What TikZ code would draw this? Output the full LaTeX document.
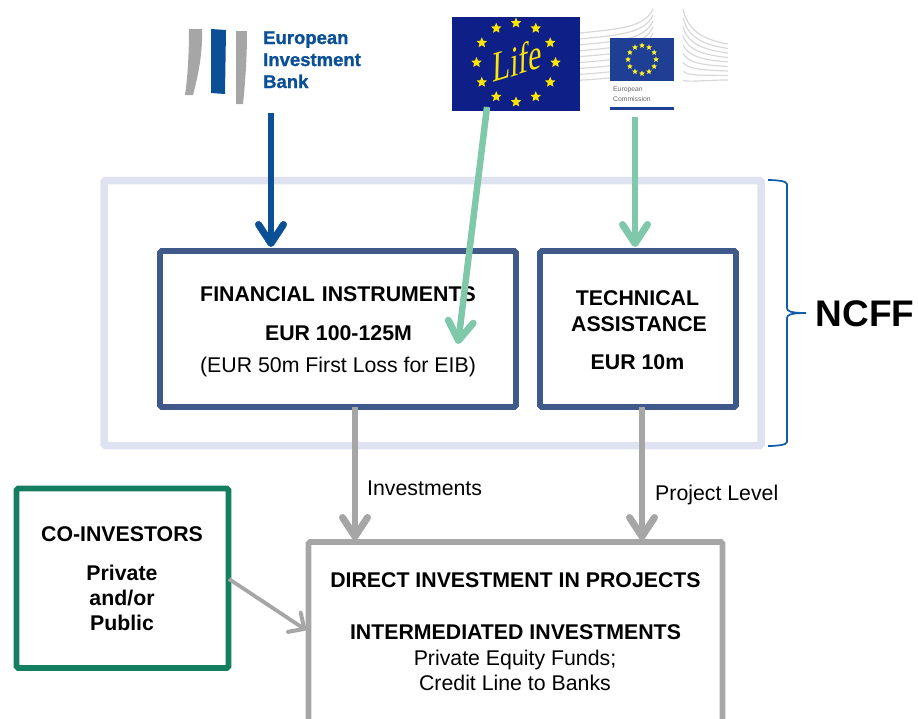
\documentclass[tikz,border=0pt]{standalone}
\usepackage{fontspec}
\setmainfont{Liberation Sans}
\newfontfamily\lifefont[FakeSlant=0.25]{Liberation Serif}
\newfontfamily\eibfont[BoldFeatures={FakeBold=1.2}]{Liberation Sans}
\usetikzlibrary{arrows.meta,shapes.geometric,calc}
\definecolor{eibblue}{HTML}{0B4F96}
\definecolor{mint}{HTML}{7FC8A9}
\definecolor{pale}{HTML}{DFE3F1}
\definecolor{steel}{HTML}{3F5A8A}
\definecolor{coin}{HTML}{147F60}
\definecolor{midgrey}{HTML}{A6A6A6}
\definecolor{lifeblue}{HTML}{0E1F87}
\definecolor{ecblue}{HTML}{1F3F94}
\definecolor{wing}{HTML}{D8D8D8}
\definecolor{bracecol}{HTML}{0B5CAB}
\tikzset{
  x=1pt,y=-1pt,
  panel/.style={draw,rounded corners=1.5pt,inner sep=0pt,outer sep=0pt,fill=none},
  lab/.style={anchor=base,inner sep=0pt,font=\fontsize{21.3}{25}\selectfont},
  blab/.style={lab,font=\fontsize{21.3}{25}\selectfont\bfseries},
  eibtxt/.style={anchor=base west,inner sep=0pt,text=eibblue,font=\eibfont\fontsize{18.5}{22}\selectfont\bfseries},
  flow/.style={line width=6.5pt,-{Straight Barb[length=19pt,width=25pt,line width=7pt,round]}},
  thinflow/.style={line width=3.8pt,midgrey,-{Straight Barb[length=12pt,width=23pt,line width=4pt,round]}},
  lstar/.style={star,star points=5,star point ratio=2.2,fill=#1,inner sep=0pt},
}
\begin{document}
\begin{tikzpicture}
\useasboundingbox (0,0) rectangle (918,718);
\clip (0,0) rectangle (918,718);
% EIB logo
\fill[midgrey] (189,29) -- (202,29) .. controls (203,55) and (197,80) .. (193,95) -- (185,95) .. controls (188,75) and (189,50) .. cycle;
\fill[eibblue] (211,29) -- (226,30) -- (225,94) -- (211,93) -- cycle;
\fill[midgrey] (236,31) -- (247,31) .. controls (247,60) and (245,85) .. (243,104) -- (236,104) -- cycle;
\node[eibtxt] (eib1) at (263,44) {European};
\node[eibtxt] (eib2) at (263,66) {Investment};
\node[eibtxt] (eib3) at (263,88) {Bank};
\coordinate (eibout) at (271,113);
% EC wings
\foreach \i in {0,1,...,8}{
  \draw[wing,line width=1.2pt] (580,{33+\i*5.9}) .. controls (620,{29+\i*6.1}) and (645,{27+\i*6}) .. (653,{9+\i*6});
  \draw[wing,line width=1.2pt] (683,{9+\i*8.9}) .. controls (688,{32+\i*6.3}) and (705,{40+\i*5}) .. (728,{44+\i*4.5});
}
% EC logo
\node[fill=ecblue,minimum width=64pt,minimum height=43pt,inner sep=0pt,outer sep=0pt] (ecflag) at (642,59.5) {};
\foreach \i in {1,...,12}{
  \node[lstar=yellow!85!white,minimum size=6pt] (ecs\i) at ($(ecflag.center)+({\i*30}:14)$) {};
}
\node[anchor=base west,inner sep=0pt,text=black!60,font=\fontsize{6.8}{8}\selectfont] (ect1) at (613,91) {European};
\node[anchor=base west,inner sep=0pt,text=black!60,font=\fontsize{6.8}{8}\selectfont] (ect2) at (613,101) {Commission};
\node[fill=ecblue,minimum width=64pt,minimum height=3pt,inner sep=0pt,outer sep=0pt] (ecbar) at (642,108.5) {};
\coordinate (ecout) at (635,117);
% LIFE logo
\node[fill=lifeblue,minimum width=128pt,minimum height=94pt,inner sep=0pt,outer sep=0pt] (life) at (516,64) {};
\foreach \i in {1,...,12}{
  \node[lstar=yellow!90!orange,minimum size=11pt] (ls\i) at ($(516,62.5)+({\i*30}:39.5)$) {};
}
\node[inner sep=0pt,text=yellow!90!orange,xscale=0.72,rotate=12,transform shape,font=\lifefont\fontsize{42}{46}\selectfont] (lifetxt) at (515,61) {Life};
\coordinate (lifeout) at (487,107);
% NCFF panel
\node[panel,draw=pale,line width=7.5pt,minimum width=657pt,minimum height=265pt,anchor=north west] (ncff) at (104,180.5) {};
% brace
\draw[bracecol,line width=1.7pt] (768,180) .. controls (776,180) and (787,181) .. (787,184) -- (787,308) .. controls (787,311) and (790,313) .. (806,313) .. controls (790,313) and (787,315) .. (787,318) -- (787,442) .. controls (787,445) and (776,446) .. (768,446);
\node[inner sep=0pt,anchor=base,font=\fontsize{37}{42}\selectfont\bfseries] (ncfflab) at (865,326) {NCFF};
% boxes
\node[panel,draw=steel,line width=5.6pt,minimum width=356pt,minimum height=156pt,anchor=north west] (fin) at (160,251) {};
\node[panel,draw=steel,line width=5.6pt,minimum width=196pt,minimum height=156pt,anchor=north west] (ta) at (540,251) {};
\node[panel,draw=coin,line width=5.6pt,minimum width=212pt,minimum height=179.5pt,anchor=north west] (coinv) at (16.5,488.5) {};
\node[panel,draw=midgrey,line width=5.6pt,minimum width=414pt,minimum height=200pt,anchor=north west] (direct) at (308.5,542) {};
% texts
\node[blab] (f1) at (338,301) {FINANCIAL\hspace{1pt} INSTRUMENTS};
\node[blab] (f2) at (338.5,340) {EUR 100-125M};
\node[lab] (f3) at (338,372) {(EUR 50m First Loss for EIB)};
\node[blab] (t1) at (637.5,305) {TECHNICAL};
\node[blab] (t2) at (639,331) {ASSISTANCE};
\node[blab] (t3) at (637.5,369) {EUR 10m};
\node[blab] (c1) at (122,541) {CO-INVESTORS};
\node[blab] (c2) at (122,580) {Private};
\node[blab] (c3) at (122,605) {and/or};
\node[blab] (c4) at (122,630) {Public};
\node[blab] (d1) at (515.5,587) {DIRECT INVESTMENT IN PROJECTS};
\node[blab] (d2) at (515.5,639) {INTERMEDIATED INVESTMENTS};
\node[lab] (d3) at (515,665) {Private Equity Funds;};
\node[lab] (d4) at (515,690) {Credit Line to Banks};
\node[lab,anchor=base west] (inv) at (367,495) {Investments};
\node[lab,anchor=base west] (proj) at (655,500) {Project Level};
% connectors
\coordinate (finx) at (355,0);
\coordinate (tax) at (642,0);
\coordinate (eibin) at (eibout |- fin.north);
\coordinate (ecin) at (ecout |- ta.north);
\coordinate (lifein) at (458,344);
\draw[flow,eibblue] (eibout) -- ($(eibin)+(0,-4)$);
\draw[flow,mint] (lifeout) -- (lifein);
\draw[flow,mint] (ecout) -- ($(ecin)+(0,-4)$);
\draw[flow,midgrey] (finx |- fin.south) -- ($(finx |- direct.north)+(0,-2)$);
\draw[flow,midgrey] (tax |- ta.south) -- ($(tax |- direct.north)+(0,-2)$);
\coordinate (coOut) at (229,579);
\coordinate (coIn) at (306,630);
\draw[thinflow] (coOut) -- (coIn);
\end{tikzpicture}
\end{document}
